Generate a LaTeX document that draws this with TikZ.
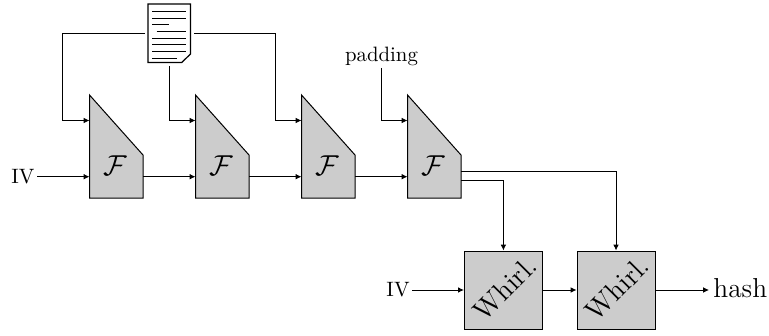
\documentclass[tikz,border=0pt]{standalone}
\usepackage{amsmath, amssymb}
\usepackage{tikz}
\usetikzlibrary{positioning, calc, arrows.meta}
\tikzset{
    block/.style={draw=black, fill=black!20, line width=0.5pt},
    whirlbox/.style={block, minimum size=39pt, inner sep=0pt},
    conn/.style={line width=0.45pt, -{Latex[length=2.9pt,width=2.8pt]}},
    wire/.style={line width=0.45pt},
    biglabel/.style={font=\fontsize{13.7}{16}\selectfont, inner sep=1pt},
    whirllabel/.style={font=\fontsize{14}{16}\selectfont, inner sep=0pt, rotate=45},
    smalllabel/.style={font=\fontsize{10.4}{12}\selectfont, inner sep=1pt}
}

\begin{document}
\begin{tikzpicture}[x=0.5pt, y=-0.5pt]
    \useasboundingbox (0,0) rectangle (769,336);

    % Compression blocks
    \foreach \n/\x in {1/89.5, 2/195.5, 3/301.5, 4/407.5} {
        \draw[block] (\x,95) -- (\x+53.5,155) -- (\x+53.5,198) -- (\x,198) -- cycle;
        \node[biglabel] (F\n) at (\x+26,166) {$\mathcal{F}$};
        \coordinate (F\n up) at (\x,120.5);
        \coordinate (F\n in) at (\x,176.7);
        \coordinate (F\n out) at (\x+53.5,176.7);
    }

    % Message sheet
    \draw[line width=0.6pt, fill=white] (148,4) -- (190.5,4) -- (190.5,54) -- (181.7,62.5) -- (148,62.5) -- cycle;
    \foreach \xa/\xb/\y in {152.3/185.7/11.3, 152.3/185.7/18, 152.3/169/24.7, 156.7/185.7/31.3,
                            152.3/185.7/38, 152.3/185.7/44.7, 152.3/185.7/51.3, 152.3/176.7/58} {
        \draw[wire] (\xa,\y) -- (\xb,\y);
    }
    \coordinate (docleft) at (145,33.3);
    \coordinate (docright) at (194,33.3);
    \coordinate (docdown) at (169,66);

    % Message words into the blocks
    \draw[conn] (docleft) -- (62.7,33.3) |- (F1up);
    \draw[conn] (docdown) |- (F2up);
    \draw[conn] (docright) -- (275.5,33.3) |- (F3up);

    \node[smalllabel] (padding) at (381.5,56) {padding};
    \draw[conn] (padding.south) |- (F4up);

    % Chaining
    \node[smalllabel, anchor=east] (iv1) at (37,176.7) {IV};
    \draw[conn] (iv1.east) -- (F1in);
    \draw[conn] (F1out) -- (F2in);
    \draw[conn] (F2out) -- (F3in);
    \draw[conn] (F3out) -- (F4in);

    % Output transform
    \node[whirlbox] (W1) at (503.4,290) {};
    \node[whirlbox] (W2) at (616,290) {};
    \node[whirllabel] (W1text) at (505,288.7) {Whirl.};
    \node[whirllabel] (W2text) at (617.5,288.7) {Whirl.};

    \coordinate (F4high) at (461,171.7);
    \coordinate (F4low) at (461,180);
    \draw[conn] (F4low) -| (W1.north);
    \draw[conn] (F4high) -| (W2.north);

    \node[smalllabel, anchor=east] (iv2) at (412,290) {IV};
    \node[biglabel, anchor=west, inner sep=2pt] (hash) at (709,288) {hash};
    \draw[conn] (iv2.east) -- (W1.west);
    \draw[conn] (W1.east) -- (W2.west);
    \draw[conn] (W2.east) -- (W2.east -| hash.west);
\end{tikzpicture}
\end{document}
